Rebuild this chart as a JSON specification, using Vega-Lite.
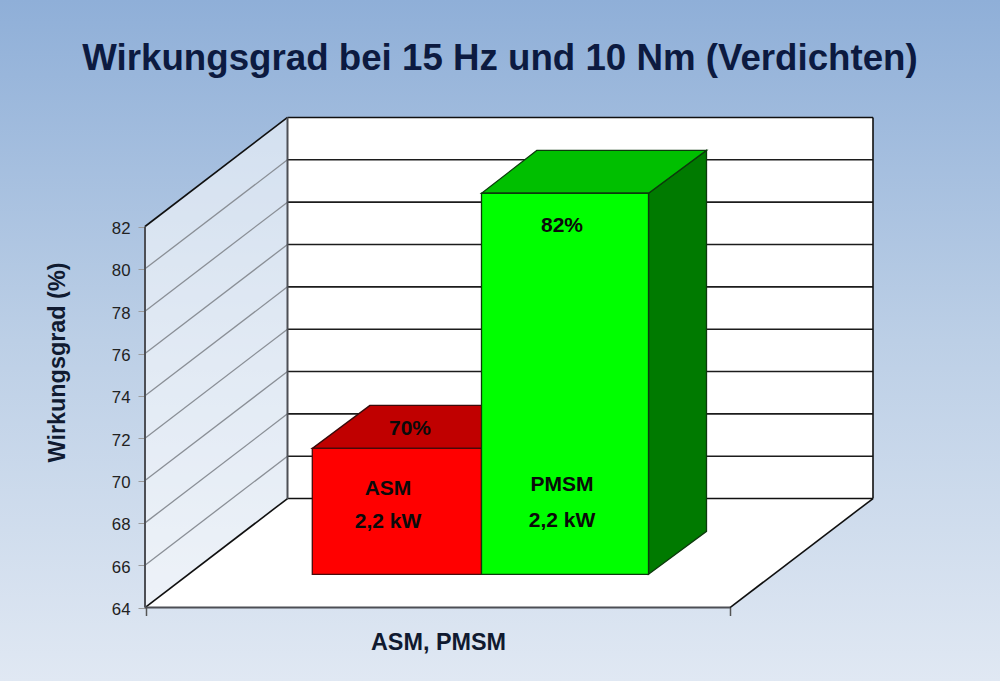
{
"$schema":"https://vega.github.io/schema/vega-lite/v6.json",
"width":1000,"height":681,"padding":0,"autosize":{"type":"none"},
"title":{"text":"Wirkungsgrad bei 15 Hz und 10 Nm (Verdichten)","font":"Liberation Sans","fontWeight":"bold","fontSize":36.7,"color":"#0c1a40","anchor":"middle","baseline":"middle","offset":0,"dy":96},
"config":{"view":{"stroke":null,"fill":{"x1":0,"y1":0,"x2":0,"y2":1,"gradient":"linear","stops":[{"offset":0,"color":"#8fafd8"},{"offset":0.5,"color":"#bccfe6"},{"offset":1,"color":"#e0e8f3"}]}}},
"encoding":{
"x":{"field":"x","type":"quantitative","scale":{"domain":[0,1000],"nice":false,"zero":false},
"axis":{"orient":"bottom","offset":-73.5,"values":[146,730],"labels":false,"domain":false,"grid":false,"tickSize":8,"tickColor":"#555","tickWidth":1.5,"title":"ASM, PMSM","titleFont":"Liberation Sans","titleFontSize":23.4,"titleFontWeight":"bold","titleColor":"#101a30","titleX":438,"titleY":35,"titleAlign":"center","titleBaseline":"middle"}},
"y":{"field":"y","type":"quantitative","scale":{"domain":[60.53,92.70],"nice":false,"zero":false},
"axis":{"orient":"left","offset":-145,"values":[64,66,68,70,72,74,76,78,80,82],"domain":false,"grid":false,"tickSize":7,"tickColor":"#9a9a9a","tickWidth":1,"labelFont":"Liberation Sans","labelFontSize":16.8,"labelColor":"#222222","labelPadding":8,"labelOffset":2,"title":"Wirkungsgrad (%)","titleFont":"Liberation Sans","titleFontSize":23.4,"titleFontWeight":"bold","titleColor":"#101a30","titleX":-88,"titleY":362,"titleAngle":-90,"titleAlign":"center","titleBaseline":"middle"}}
},
"layer":[
{"data":{"values":[{"x":145,"y":64,"y2":82},{"x":287.5,"y":69.15,"y2":87.15}]},
 "mark":{"type":"area","orient":"vertical","fill":"#ffffff","fillOpacity":0.55},"encoding":{"y2":{"field":"y2"}}},
{"data":{"values":[{"x":287.5,"y":69.15,"y2":87.15},{"x":873,"y":69.15,"y2":87.15}]},
 "mark":{"type":"area","orient":"vertical","fill":"#ffffff"},"encoding":{"y2":{"field":"y2"}}},
{"data":{"values":[{"y":64,"x":145,"x2":730},{"y":69.15,"x":287.5,"x2":873}]},
 "mark":{"type":"area","orient":"horizontal","fill":"#ffffff"},"encoding":{"x2":{"field":"x2"}}},
{"data":{"values":[
 {"t":66,"x":145,"y":66},{"t":66,"x":287.5,"y":71.15},
 {"t":68,"x":145,"y":68},{"t":68,"x":287.5,"y":73.15},
 {"t":70,"x":145,"y":70},{"t":70,"x":287.5,"y":75.15},
 {"t":72,"x":145,"y":72},{"t":72,"x":287.5,"y":77.15},
 {"t":74,"x":145,"y":74},{"t":74,"x":287.5,"y":79.15},
 {"t":76,"x":145,"y":76},{"t":76,"x":287.5,"y":81.15},
 {"t":78,"x":145,"y":78},{"t":78,"x":287.5,"y":83.15},
 {"t":80,"x":145,"y":80},{"t":80,"x":287.5,"y":85.15}]},
 "mark":{"type":"line","stroke":"#8a8f96","strokeWidth":1.3},"encoding":{"detail":{"field":"t"}}},
{"data":{"values":[
 {"t":66,"x":287.5,"y":71.15},{"t":66,"x":873,"y":71.15},
 {"t":68,"x":287.5,"y":73.15},{"t":68,"x":873,"y":73.15},
 {"t":70,"x":287.5,"y":75.15},{"t":70,"x":873,"y":75.15},
 {"t":72,"x":287.5,"y":77.15},{"t":72,"x":873,"y":77.15},
 {"t":74,"x":287.5,"y":79.15},{"t":74,"x":873,"y":79.15},
 {"t":76,"x":287.5,"y":81.15},{"t":76,"x":873,"y":81.15},
 {"t":78,"x":287.5,"y":83.15},{"t":78,"x":873,"y":83.15},
 {"t":80,"x":287.5,"y":85.15},{"t":80,"x":873,"y":85.15}]},
 "mark":{"type":"line","stroke":"#1c1c1c","strokeWidth":1.6},"encoding":{"detail":{"field":"t"}}},
{"data":{"values":[
 {"e":"a","x":145,"y":82},{"e":"a","x":287.5,"y":87.15},
 {"e":"b","x":145,"y":64},{"e":"b","x":287.5,"y":69.15},
 {"e":"c","x":287.5,"y":87.15},{"e":"c","x":873,"y":87.15},
 {"e":"d","x":287.5,"y":69.15},{"e":"d","x":873,"y":69.15},
 {"e":"e","x":873,"y":69.15},{"e":"e","x":873,"y":87.15},
 {"e":"f","x":730,"y":64},{"e":"f","x":873,"y":69.15}]},
 "mark":{"type":"line","stroke":"#101010","strokeWidth":1.6},"encoding":{"detail":{"field":"e"}}},
{"data":{"values":[
 {"e":"a","x":145,"y":64},{"e":"a","x":145,"y":82},
 {"e":"b","x":287.5,"y":69.15},{"e":"b","x":287.5,"y":87.15},
 {"e":"c","x":145,"y":64},{"e":"c","x":730,"y":64}]},
 "mark":{"type":"line","stroke":"#4d4f55","strokeWidth":2},"encoding":{"detail":{"field":"e"}}},
{"data":{"values":[{"y":71.52,"x":312.3,"x2":481.5},{"y":73.55,"x":370,"x2":539.5}]},
 "mark":{"type":"area","orient":"horizontal","fill":"#c00000","stroke":"#3a0a0a","strokeWidth":1.3},"encoding":{"x2":{"field":"x2"}}},
{"data":{"values":[{"x":312.3,"y":65.57,"y2":71.52},{"x":481.5,"y":65.57,"y2":71.52}]},
 "mark":{"type":"area","orient":"vertical","fill":"#ff0000","stroke":"#4a0a0a","strokeWidth":1.3},"encoding":{"y2":{"field":"y2"}}},
{"data":{"values":[{"x":648.5,"y":65.57,"y2":83.57},{"x":706.5,"y":67.6,"y2":85.6}]},
 "mark":{"type":"area","orient":"vertical","fill":"#007a00","stroke":"#0c3a0c","strokeWidth":1.3},"encoding":{"y2":{"field":"y2"}}},
{"data":{"values":[{"y":83.57,"x":481.5,"x2":648.5},{"y":85.6,"x":537,"x2":706.5}]},
 "mark":{"type":"area","orient":"horizontal","fill":"#00bf00","stroke":"#0c3a0c","strokeWidth":1.3},"encoding":{"x2":{"field":"x2"}}},
{"data":{"values":[{"x":481.5,"y":65.57,"y2":83.57},{"x":648.5,"y":65.57,"y2":83.57}]},
 "mark":{"type":"area","orient":"vertical","fill":"#00ff00","stroke":"#0c3a0c","strokeWidth":1.3},"encoding":{"y2":{"field":"y2"}}},
{"data":{"values":[
 {"x":410,"y":72.44,"label":"70%"},
 {"x":388,"y":69.6,"label":"ASM"},
 {"x":388,"y":68.05,"label":"2,2 kW"},
 {"x":562,"y":69.79,"label":"PMSM"},
 {"x":562,"y":68.09,"label":"2,2 kW"},
 {"x":562,"y":82.03,"label":"82%"}]},
 "mark":{"type":"text","font":"Liberation Sans","fontWeight":"bold","fontSize":21,"color":"#0a0a0a","align":"center","baseline":"middle"},
 "encoding":{"text":{"field":"label"}}}
]
}
